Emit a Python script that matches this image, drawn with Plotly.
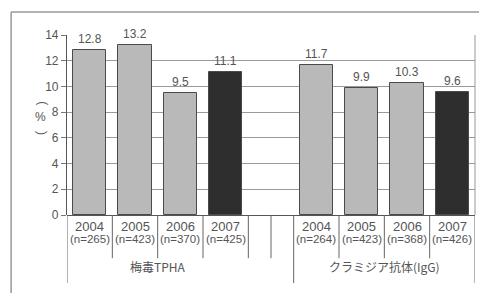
import plotly.graph_objects as go

years = ["2004", "2005", "2006", "2007", "2004", "2005", "2006", "2007"]
n_labels = ["(n=265)", "(n=423)", "(n=370)", "(n=425)", "(n=264)", "(n=423)", "(n=368)", "(n=426)"]
values = [12.8, 13.2, 9.5, 11.1, 11.7, 9.9, 10.3, 9.6]
groups = ["梅毒TPHA", "クラミジア抗体(IgG)"]
slots = [0, 1, 2, 3, 5, 6, 7, 8]
y_ticks = [0, 2, 4, 6, 8, 10, 12, 14]

light = "#b9b9b9"
dark = "#2e2e2e"
colors = [light, light, light, dark, light, light, light, dark]
txt = "#555555"
font = "Liberation Sans, Arial, sans-serif"

fig = go.Figure()
fig.add_trace(go.Bar(
    x=slots, y=values, width=0.73,
    marker=dict(color=colors, line=dict(color="#4a4a4a", width=1)),
    showlegend=False, hoverinfo="skip",
))

ann = []
for s, v in zip(slots, values):
    ann.append(dict(x=s, y=v, text=f"{v:.1f}", showarrow=False, yanchor="bottom",
                    yshift=2, font=dict(size=12, color=txt, family=font)))
for s, yr, nl in zip(slots, years, n_labels):
    ann.append(dict(x=s, y=-0.117, yref="paper", text=yr, showarrow=False,
                    font=dict(size=13, color=txt, family=font)))
    ann.append(dict(x=s, y=-0.180, yref="paper", text=nl, showarrow=False,
                    font=dict(size=11.5, color=txt, family=font)))
for gx, g in zip([1.5, 6.5], groups):
    ann.append(dict(x=gx, y=-0.345, yref="paper", text=g, showarrow=False,
                    font=dict(size=12, color=txt, family="Noto Sans CJK JP, sans-serif")))
# vertical-style axis title: (%) with rotated parentheses
ytitle_x = -0.083
ann.append(dict(x=ytitle_x, xref="paper", y=0.62, yref="paper", text="(", textangle=90,
                showarrow=False, font=dict(size=12, color=txt, family=font)))
ann.append(dict(x=ytitle_x, xref="paper", y=0.545, yref="paper", text="%",
                showarrow=False, font=dict(size=12, color=txt, family=font)))
ann.append(dict(x=ytitle_x, xref="paper", y=0.455, yref="paper", text=")", textangle=90,
                showarrow=False, font=dict(size=12, color=txt, family=font)))

frame = dict(color="#999999", width=1.5)
shapes = []
# outer frame (extends past the right and bottom edges)
shapes.append(dict(type="line", xref="paper", yref="paper", x0=-0.137, x1=1.05, y0=1.128, y1=1.128,
                   line=frame, layer="above"))
shapes.append(dict(type="line", xref="paper", yref="paper", x0=-0.137, x1=-0.137, y0=1.128, y1=-0.45,
                   line=frame, layer="above"))
# category dividers
long_x = [-0.5, 4.5, 8.5]
short_x = [0.5, 1.5, 2.5, 3.5, 4.0, 5.5, 6.5, 7.5]
for xv in long_x:
    shapes.append(dict(type="line", xref="x", yref="paper", x0=xv, x1=xv, y0=0, y1=-0.378,
                       line=dict(color="#666666", width=1)))
for xv in short_x:
    shapes.append(dict(type="line", xref="x", yref="paper", x0=xv, x1=xv, y0=0, y1=-0.24,
                       line=dict(color="#666666", width=1)))
# right edge of plot
shapes.append(dict(type="line", xref="paper", yref="paper", x0=1, x1=1, y0=0, y1=1,
                   line=dict(color="#999999", width=1)))

fig.update_layout(
    width=479, height=293,
    margin=dict(l=67, r=4, t=35, b=78),
    paper_bgcolor="white", plot_bgcolor="white",
    bargap=0,
    xaxis=dict(range=[-0.5, 8.5], showticklabels=False, showgrid=False, zeroline=False,
               showline=False, ticks=""),
    yaxis=dict(range=[0, 14], tickvals=y_ticks, showgrid=True, gridcolor="#9a9a9a", gridwidth=1,
               zeroline=True, zerolinecolor="#555555", zerolinewidth=1.2,
               showline=True, linecolor="#555555", linewidth=1.2, mirror=False,
               ticks="outside", ticklen=5, tickcolor="#777777",
               tickfont=dict(size=12, color=txt, family=font)),
    annotations=ann, shapes=shapes,
)

fig.write_html("out.html", config={"displayModeBar": False},
               post_script="document.body.style.margin='0';document.body.style.padding='0';")
